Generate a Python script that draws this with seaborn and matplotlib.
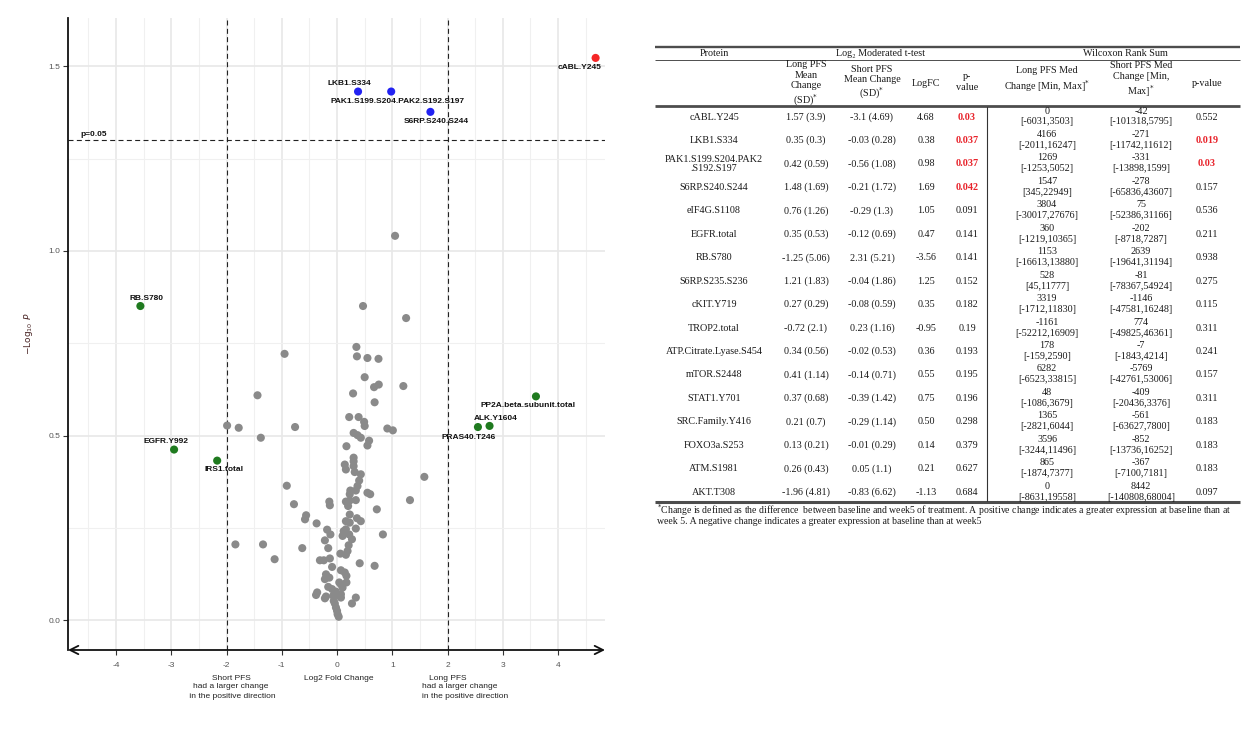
import numpy as np
import pandas as pd
import matplotlib
matplotlib.use("Agg")
import matplotlib.pyplot as plt
import matplotlib.transforms as mtrans
import seaborn as sns

# ---------------- analytes summarised in the table ----------------
proteins = ["cABL.Y245", "LKB1.S334", "PAK1.S199.S204.PAK2.S192.S197", "S6RP.S240.S244",
            "eIF4G.S1108", "EGFR.total", "RB.S780", "S6RP.S235.S236", "cKIT.Y719",
            "TROP2.total", "ATP.Citrate.Lyase.S454", "mTOR.S2448", "STAT1.Y701",
            "SRC.Family.Y416", "FOXO3a.S253", "ATM.S1981", "AKT.T308"]
long_mean = [1.57, 0.35, 0.42, 1.48, 0.76, 0.35, -1.25, 1.21, 0.27, -0.72, 0.34, 0.41, 0.37, 0.21, 0.13, 0.26, -1.96]
long_sd = [3.9, 0.3, 0.59, 1.69, 1.26, 0.53, 5.06, 1.83, 0.29, 2.1, 0.56, 1.14, 0.68, 0.7, 0.21, 0.43, 4.81]
short_mean = [-3.1, -0.03, -0.56, -0.21, -0.29, -0.12, 2.31, -0.04, -0.08, 0.23, -0.02, -0.14, -0.39, -0.29, -0.01, 0.05, -0.83]
short_sd = [4.69, 0.28, 1.08, 1.72, 1.3, 0.69, 5.21, 1.86, 0.59, 1.16, 0.53, 0.71, 1.42, 1.14, 0.29, 1.1, 6.62]
log_fc = [4.68, 0.38, 0.98, 1.69, 1.05, 0.47, -3.56, 1.25, 0.35, -0.95, 0.36, 0.55, 0.75, 0.50, 0.14, 0.21, -1.13]
p_mod = [0.03, 0.037, 0.037, 0.042, 0.091, 0.141, 0.141, 0.152, 0.182, 0.19, 0.193, 0.195, 0.196, 0.298, 0.379, 0.627, 0.684]

w_long_med = [0, 4166, 1269, 1547, 3804, 360, 1153, 528, 3319, -1161, 178, 6282, 48, 1365, 3596, 865, 0]
w_long_min = [-6031, -2011, -1253, 345, -30017, -1219, -16613, 45, -1712, -52212, -159, -6523, -1086, -2821, -3244, -1874, -8631]
w_long_max = [3503, 16247, 5052, 22949, 27676, 10365, 13880, 11777, 11830, 16909, 2590, 33815, 3679, 6044, 11496, 7377, 19558]
w_short_med = [-42, -271, -331, -278, 75, -202, 2639, -81, -1146, 774, -7, -5769, -409, -561, -852, -367, 8442]
w_short_min = [-101318, -11742, -13898, -65836, -52386, -8718, -19641, -78367, -47581, -49825, -1843, -42761, -20436, -63627, -13736, -7100, -140808]
w_short_max = [5795, 11612, 1599, 43607, 31166, 7287, 31194, 54924, 16248, 46361, 4214, 53006, 3376, 7800, 16252, 7181, 68004]
p_wilcox = [0.552, 0.019, 0.03, 0.157, 0.536, 0.211, 0.938, 0.275, 0.115, 0.311, 0.241, 0.157, 0.311, 0.183, 0.183, 0.183, 0.097]

# ---------------- further labelled analytes (log2 FC, -log10 p) ----------------
extra_names = ["EGFR.Y992", "IRS1.total", "PP2A.beta.subunit.total", "ALK.Y1604", "PRAS40.T246"]
extra_fc = [-2.95, -2.17, 3.60, 2.76, 2.55]
extra_nlp = [0.462, 0.432, 0.606, 0.526, 0.523]

# ---------------- remaining analytes (log2 FC, -log10 p) ----------------
bg_fc = [0.50, 0.67, 0.755, 1.20, -1.44, 0.29, 0.68, 0.22, 0.39, 0.49, -1.99, -1.78, -0.76, 0.91, 1.01,
         0.30, 0.37, 0.43, -1.38, 0.58, 0.55, 0.17, 0.30, 0.30, 0.16, 0.30, 0.32, 0.43, 0.40, 0.37,
         1.58, -0.91, 0.24, 0.23, 0.34, 0.55, 0.60, 1.32, 0.16, 0.23, 0.34, -0.78, -0.14, -0.13, 0.20,
         0.72, 0.23, 0.36, 0.43, -0.56, -0.58, 0.16, 0.23, -0.37, 0.16, 0.34, -0.18, -0.12, 0.12, 0.10,
         0.22, 0.27, 0.83, -0.22, -1.84, -1.34, -0.63, -0.16, 0.19, 0.06, 0.16, -0.31, -0.24, -0.13, 0.41,
         0.68, -0.09, 0.07, 0.14, 0.17, -0.20, -0.14, -0.22, 0.17, 0.07, 0.10, 0.04, -0.16, -0.09, -0.02,
         -0.36, -0.38, -0.20, -0.22, -0.07, -0.06, 0.07, 0.07, 0.01, 0.34, 0.27, -0.04, -0.02, 0.00, 0.01, 0.03]
bg_nlp = [0.658, 0.631, 0.638, 0.634, 0.609, 0.614, 0.590, 0.550, 0.550, 0.537, 0.527, 0.521, 0.523, 0.519, 0.514,
          0.507, 0.501, 0.494, 0.494, 0.486, 0.473, 0.471, 0.440, 0.430, 0.408, 0.417, 0.401, 0.395, 0.378, 0.363,
          0.388, 0.364, 0.351, 0.341, 0.351, 0.345, 0.341, 0.325, 0.321, 0.324, 0.325, 0.314, 0.321, 0.311, 0.309,
          0.300, 0.286, 0.276, 0.268, 0.284, 0.273, 0.268, 0.264, 0.262, 0.246, 0.248, 0.245, 0.232, 0.241, 0.228,
          0.232, 0.219, 0.232, 0.216, 0.205, 0.205, 0.195, 0.195, 0.187, 0.180, 0.177, 0.162, 0.162, 0.167, 0.154,
          0.147, 0.144, 0.135, 0.129, 0.120, 0.124, 0.115, 0.111, 0.102, 0.097, 0.088, 0.102, 0.090, 0.084, 0.077,
          0.075, 0.068, 0.064, 0.059, 0.066, 0.052, 0.061, 0.070, 0.068, 0.061, 0.045, 0.045, 0.034, 0.025, 0.016, 0.009]

FC_CUT = 2.0
P_CUT = 0.05

# text offsets (pixels) of the point labels
label_offsets = {
    "cABL.Y245": (-16, -10), "LKB1.S334": (-9, 8), "PAK1.S199.S204.PAK2.S192.S197": (6, -10),
    "S6RP.S240.S244": (6, -10), "RB.S780": (6, 8), "EGFR.Y992": (-8, 8), "IRS1.total": (7, -9),
    "PP2A.beta.subunit.total": (-8, -9), "ALK.Y1604": (6, 7), "PRAS40.T246": (-9, -10),
}

# ---------------- assemble the volcano data ----------------
names = proteins + extra_names + [""] * len(bg_fc)
fc = log_fc + extra_fc + bg_fc
nlp = list(-np.log10(p_mod)) + extra_nlp + bg_nlp
df = pd.DataFrame({"name": names, "fc": fc, "nlp": nlp})
p_line = -np.log10(P_CUT)


def classify(row):
    sig = row.nlp > p_line
    big = abs(row.fc) > FC_CUT
    if sig and big:
        return "p & log2FC"
    if sig:
        return "p-value"
    if big:
        return "log2FC"
    return "NS"


df["group"] = df.apply(classify, axis=1)
order = ["NS", "log2FC", "p-value", "p & log2FC"]
df["rank"] = df["group"].map({g: i for i, g in enumerate(order)})
df = df.sort_values("rank", kind="stable")
palette = {"NS": "#8a8a8a", "log2FC": "#1f7a1f", "p-value": "#2222f2", "p & log2FC": "#f52626"}

sns.set_style("whitegrid")
plt.rcParams["font.family"] = ["Liberation Sans", "DejaVu Sans"]
plt.rcParams["axes.unicode_minus"] = False

W, H = 1246, 741
fig = plt.figure(figsize=(W / 100, H / 100), dpi=100)
fig.patch.set_facecolor("white")

L, R, T, B = 68, 605, 18, 650
ax = fig.add_axes([L / W, 1 - B / H, (R - L) / W, (B - T) / H])
ax.set_facecolor("white")

sns.scatterplot(data=df, x="fc", y="nlp", hue="group", palette=palette, hue_order=order,
                s=34, edgecolor="none", linewidth=0, legend=False, ax=ax, zorder=3)

ax.set_xlim(-4.87, 4.85)
ax.set_ylim(-0.081, 1.631)
ax.set_xticks(np.arange(-4, 5, 1))
ax.set_xticks(np.arange(-4.5, 5, 1), minor=True)
ax.set_yticks([0.0, 0.5, 1.0, 1.5])
ax.set_yticks([0.25, 0.75, 1.25], minor=True)
ax.set_yticklabels(["0.0", "0.5", "1.0", "1.5"])
ax.grid(which="major", color="#e8e8e8", lw=1.2, zorder=0)
ax.grid(which="minor", color="#f0f0f0", lw=0.8, zorder=0)
ax.set_axisbelow(True)

ax.tick_params(which="minor", length=0)
ax.tick_params(axis="both", which="major", length=3.5, width=0.8, color="#333333",
               labelsize=6, labelcolor="#555555", pad=2, left=True, bottom=True)
ax.tick_params(axis="x", pad=5)
for side in ["top", "right", "bottom"]:
    ax.spines[side].set_visible(False)
ax.spines["left"].set_color("#111111")
ax.spines["left"].set_linewidth(1.3)

# double-headed x axis line
ax.annotate("", xy=(1, 0), xytext=(0, 0), xycoords="axes fraction", textcoords="axes fraction",
            arrowprops=dict(arrowstyle="<->,head_length=0.6,head_width=0.3", lw=1.3,
                            color="#111111", shrinkA=0, shrinkB=0), annotation_clip=False)

# cut-off lines
dash = (0, (4.5, 3))
ax.axhline(p_line, color="#222222", lw=0.8, ls=dash, zorder=2)
for v in (-FC_CUT, FC_CUT):
    ax.axvline(v, color="#222222", lw=0.8, ls=dash, zorder=2)
ax.text(-4.64, p_line + 0.006, "p=0.05", fontsize=6, fontweight="bold", ha="left", va="bottom",
        color="#111111")

# point labels
for _, row in df[df["group"] != "NS"].iterrows():
    dx, dy = label_offsets.get(row["name"], (0, 8))
    ax.annotate(row["name"], xy=(row.fc, row.nlp), xytext=(dx, dy), textcoords="offset pixels",
                ha="center", va="center", fontsize=6, fontweight="bold", color="#111111", zorder=4)

ax.set_xlabel("")
ax.set_ylabel(r"$-\mathrm{Log}_{10}\ P$", fontsize=6.5, color="#4a2525")
ax.yaxis.set_label_coords(-0.062, 0.5)

# annotations under the x axis, one line each
blend = mtrans.blended_transform_factory(ax.transData, fig.transFigure)
line_y = [678, 687, 696]
short_lines = ["Short PFS", "had a larger change", " in the positive direction"]
long_lines = ["   Long PFS", "had a larger change", "in the positive direction"]
for yy, s_txt, l_txt in zip(line_y, short_lines, long_lines):
    yf = 1 - yy / H
    ax.text(-1.92, yf, s_txt, transform=blend, ha="center", va="center", fontsize=6, color="#222222")
    ax.text(1.53, yf, l_txt, transform=blend, ha="left", va="center", fontsize=6, color="#222222")
ax.text(0.03, 1 - line_y[0] / H, "Log2 Fold Change", transform=blend, ha="center", va="center",
        fontsize=6, color="#222222")

# ---------------- table ----------------
tab = fig.add_axes([0, 0, 1, 1])
tab.set_xlim(0, W)
tab.set_ylim(H, 0)
tab.axis("off")
tab.patch.set_alpha(0)

serif = ["Liberation Serif", "DejaVu Serif"]
tcol = "#1a1a1a"
red = "#e8232b"
fs = 7.3
cx = dict(prot=714, lm=806, sm=872, fc=926, p=967, wl=1047, ws=1141, wp=1207)
x0, x1 = 655, 1240
vline_x = 987

line_c = "#4d4d4d"
tab.plot([x0, x1], [46.5, 46.5], color=line_c, lw=1.7, solid_capstyle="butt")
tab.plot([x0, x1], [60, 60], color=line_c, lw=0.7, solid_capstyle="butt")
tab.plot([x0, x1], [105.5, 105.5], color=line_c, lw=2.0, solid_capstyle="butt")
tab.plot([x0, x1], [502, 502], color=line_c, lw=2.2, solid_capstyle="butt")
tab.plot([vline_x, vline_x], [106.5, 501], color="#333333", lw=0.8)


def ttext(x, y, s, color=tcol, weight="normal", size=fs, ha="center", ls=1.0):
    tab.text(x, y, s, ha=ha, va="center", fontsize=size, family=serif, color=color,
             fontweight=weight, linespacing=ls)


ttext(cx["prot"], 54, "Protein")
ttext(880, 54, "Log₂ Moderated t-test")
ttext(1125, 54, "Wilcoxon Rank Sum")
ttext(cx["lm"], 84, "Long PFS\nMean\nChange\n(SD)$^{*}$", ls=1.2)
ttext(cx["sm"], 83, "Short PFS\nMean Change\n(SD)$^{*}$", ls=1.2)
ttext(cx["fc"], 83, "LogFC")
ttext(cx["p"], 82, "p-\nvalue", ls=1.2)
ttext(cx["wl"], 80, "Long PFS Med\nChange [Min, Max]$^{*}$", ls=1.2)
ttext(cx["ws"], 80, "Short PFS Med\nChange [Min,\nMax]$^{*}$", ls=1.2)
ttext(cx["wp"], 83, "p-value")

row0, dy_row = 117, 23.45
for i, prot in enumerate(proteins):
    y = row0 + dy_row * i
    shown = prot.replace(".PAK2.", ".PAK2\n.") if prot.startswith("PAK1") else prot
    ttext(cx["prot"], y, shown, ls=1.1)
    ttext(cx["lm"], y, f"{long_mean[i]:g} ({long_sd[i]:g})")
    ttext(cx["sm"], y, f"{short_mean[i]:g} ({short_sd[i]:g})")
    ttext(cx["fc"], y, f"{log_fc[i]:.2f}")
    sig = p_mod[i] < P_CUT
    ttext(cx["p"], y, f"{p_mod[i]:g}", color=red if sig else tcol, weight="bold" if sig else "normal")
    ttext(cx["wl"], y - 6, f"{w_long_med[i]}")
    ttext(cx["wl"], y + 5, f"[{w_long_min[i]},{w_long_max[i]}]")
    ttext(cx["ws"], y - 6, f"{w_short_med[i]}")
    ttext(cx["ws"], y + 5, f"[{w_short_min[i]},{w_short_max[i]}]")
    wsig = p_wilcox[i] < P_CUT
    ttext(cx["wp"], y, f"{p_wilcox[i]:g}", color=red if wsig else tcol, weight="bold" if wsig else "normal")

ttext(657, 510, "$^{*}$Change is defined as the difference  between baseline and week5 of treatment. "
      "A positive change indicates a greater expression at baseline than at", size=7.0, ha="left")
ttext(657, 521, "week 5. A negative change indicates a greater expression at baseline than at week5",
      size=7.0, ha="left")

fig.savefig("out.png", dpi=100, facecolor="white")
